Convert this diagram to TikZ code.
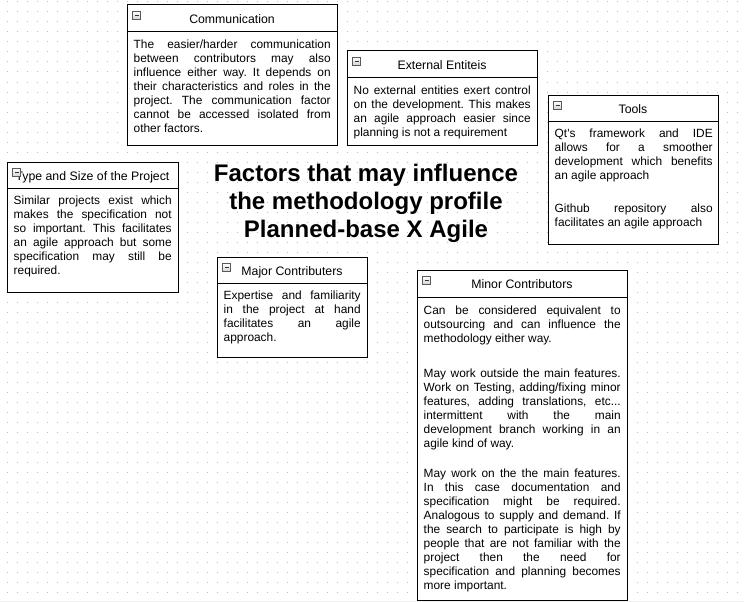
\documentclass[tikz,border=0pt]{standalone}
\usepackage{fontspec}
\setmainfont{Liberation Sans}[Ligatures=TeXOff]
\frenchspacing
\hbadness=10000
\hfuzz=3pt
\newlength\bw
\newcommand\J[1]{\hbox to\bw{#1}}
\newcommand\Lst[1]{\hbox{#1}}
\tikzset{
  panel/.style={draw=black, fill=white, line width=1pt},
  sepline/.style={draw=black, line width=1pt},
  head/.style={anchor=base, inner sep=0pt, font=\fontsize{12.3}{14}\selectfont, text=black},
  body/.style={anchor=base west, inner sep=0pt, font=\fontsize{11.9}{14}\selectfont, text=black},
  dotrow/.style={draw=gray!50, line width=1pt, dash pattern=on 1pt off 9pt},
  icon/.style={draw=gray!70!black, line width=0.7pt, top color=white, bottom color=gray!35},
  minus/.style={draw=black!80, line width=1pt},
  titletext/.style={anchor=base, inner sep=0pt, font=\fontsize{24}{28}\selectfont\bfseries, text=black}
}
% name, left, top, right, header line, bottom, title
\newcommand\mkpanel[7]{%
  \draw[panel] (#2,#3) rectangle (#4,#6);
  \draw[sepline] (#2,#5) -- (#4,#5);
  \node[head] (#1-title) at ({(#2+#4)/2},{#3+18.5}) {#7};
  \draw[icon] ({#2+5.5},{#3+6.5}) rectangle ({#2+13.5},{#3+14.5});
  \draw[minus] ({#2+7.5},{#3+10.5}) -- ({#2+11.5},{#3+10.5});
}
\begin{document}
\begin{tikzpicture}[x=1pt,y=-1pt]
\useasboundingbox (0,0) rectangle (744,602);
\fill[white] (0,0) rectangle (744,602);
% dotted grid
\foreach \j in {0,...,59} {
  \draw[dotrow] (6.5,{2+10*\j}) -- (744,{2+10*\j});
}
\fill[gray!12] (0,600.7) rectangle (744,602);

% Title
\node[titletext] (title) at (366,181.7) {\vtop{\hsize=380pt
  \hbox to\hsize{\hfil Factors that may influence\hfil}
  \hbox to\hsize{\hfil the methodology profile\hfil}
  \hbox to\hsize{\hfil Planned-base X Agile\hfil}}};

% Communication
\mkpanel{comm}{127}{5}{337}{32}{145}{Communication}
\node[body] (comm-text) at (133.5,48.3) {\setlength\bw{197pt}\vtop{%
  \J{The easier/harder communication}
  \J{between contributors may also}
  \J{influence either way. It depends on}
  \J{their characteristics and roles in the}
  \J{project. The communication factor}
  \J{cannot be accessed isolated from}
  \Lst{other factors.}}};

% External Entiteis
\mkpanel{ext}{347}{51}{537}{77}{145}{External Entiteis}
\node[body] (ext-text) at (353.5,94.3) {\setlength\bw{177pt}\vtop{%
  \J{No external entities exert control}
  \J{on the development. This makes}
  \J{an agile approach easier since}
  \Lst{planning is not a requirement}}};

% Tools
\mkpanel{tools}{548}{95}{718}{121}{244}{Tools}
\node[body] (tools-text1) at (554.5,137.3) {\setlength\bw{158pt}\vtop{%
  \J{Qt's framework and IDE}
  \J{allows for a smoother}
  \J{development which benefits}
  \Lst{an agile approach}}};
\node[body] (tools-text2) at (554.5,212.3) {\setlength\bw{158pt}\vtop{%
  \J{Github repository also}
  \Lst{facilitates an agile approach}}};

% Type and Size of the Project
\mkpanel{type}{7}{162}{178}{188}{292}{Type and Size of the Project}
\node[body] (type-text) at (13.5,204.5) {\setlength\bw{158pt}\vtop{%
  \J{Similar projects exist which}
  \J{makes the specification not}
  \J{so important. This facilitates}
  \J{an agile approach but some}
  \J{specification may still be}
  \Lst{required.}}};

% Major Contributers
\mkpanel{major}{217}{257}{367}{283}{357}{Major Contributers}
\node[body] (major-text) at (223.5,299.5) {\setlength\bw{137pt}\vtop{%
  \J{Expertise and familiarity}
  \J{in the project at hand}
  \J{facilitates an agile}
  \Lst{approach.}}};

% Minor Contributors
\mkpanel{minor}{417}{270}{627}{297}{600}{Minor Contributors}
\node[body] (minor-text1) at (423.5,314) {\setlength\bw{197pt}\vtop{%
  \J{Can be considered equivalent to}
  \J{outsourcing and can influence the}
  \Lst{methodology either way.}}};
\node[body] (minor-text2) at (423.5,377.5) {\setlength\bw{197pt}\vtop{%
  \J{May work outside the main features.}
  \J{Work on Testing, adding/fixing minor}
  \J{features, adding translations, etc...}
  \J{intermittent with the main}
  \J{development branch working in an}
  \Lst{agile kind of way.}}};
\node[body] (minor-text3) at (423.5,477.5) {\setlength\bw{197pt}\vtop{%
  \J{May work on the the main features.}
  \J{In this case documentation and}
  \J{specification might be required.}
  \J{Analogous to supply and demand. If}
  \J{the search to participate is high by}
  \J{people that are not familiar with the}
  \J{project then the need for}
  \J{specification and planning becomes}
  \Lst{more important.}}};
\end{tikzpicture}
\end{document}
